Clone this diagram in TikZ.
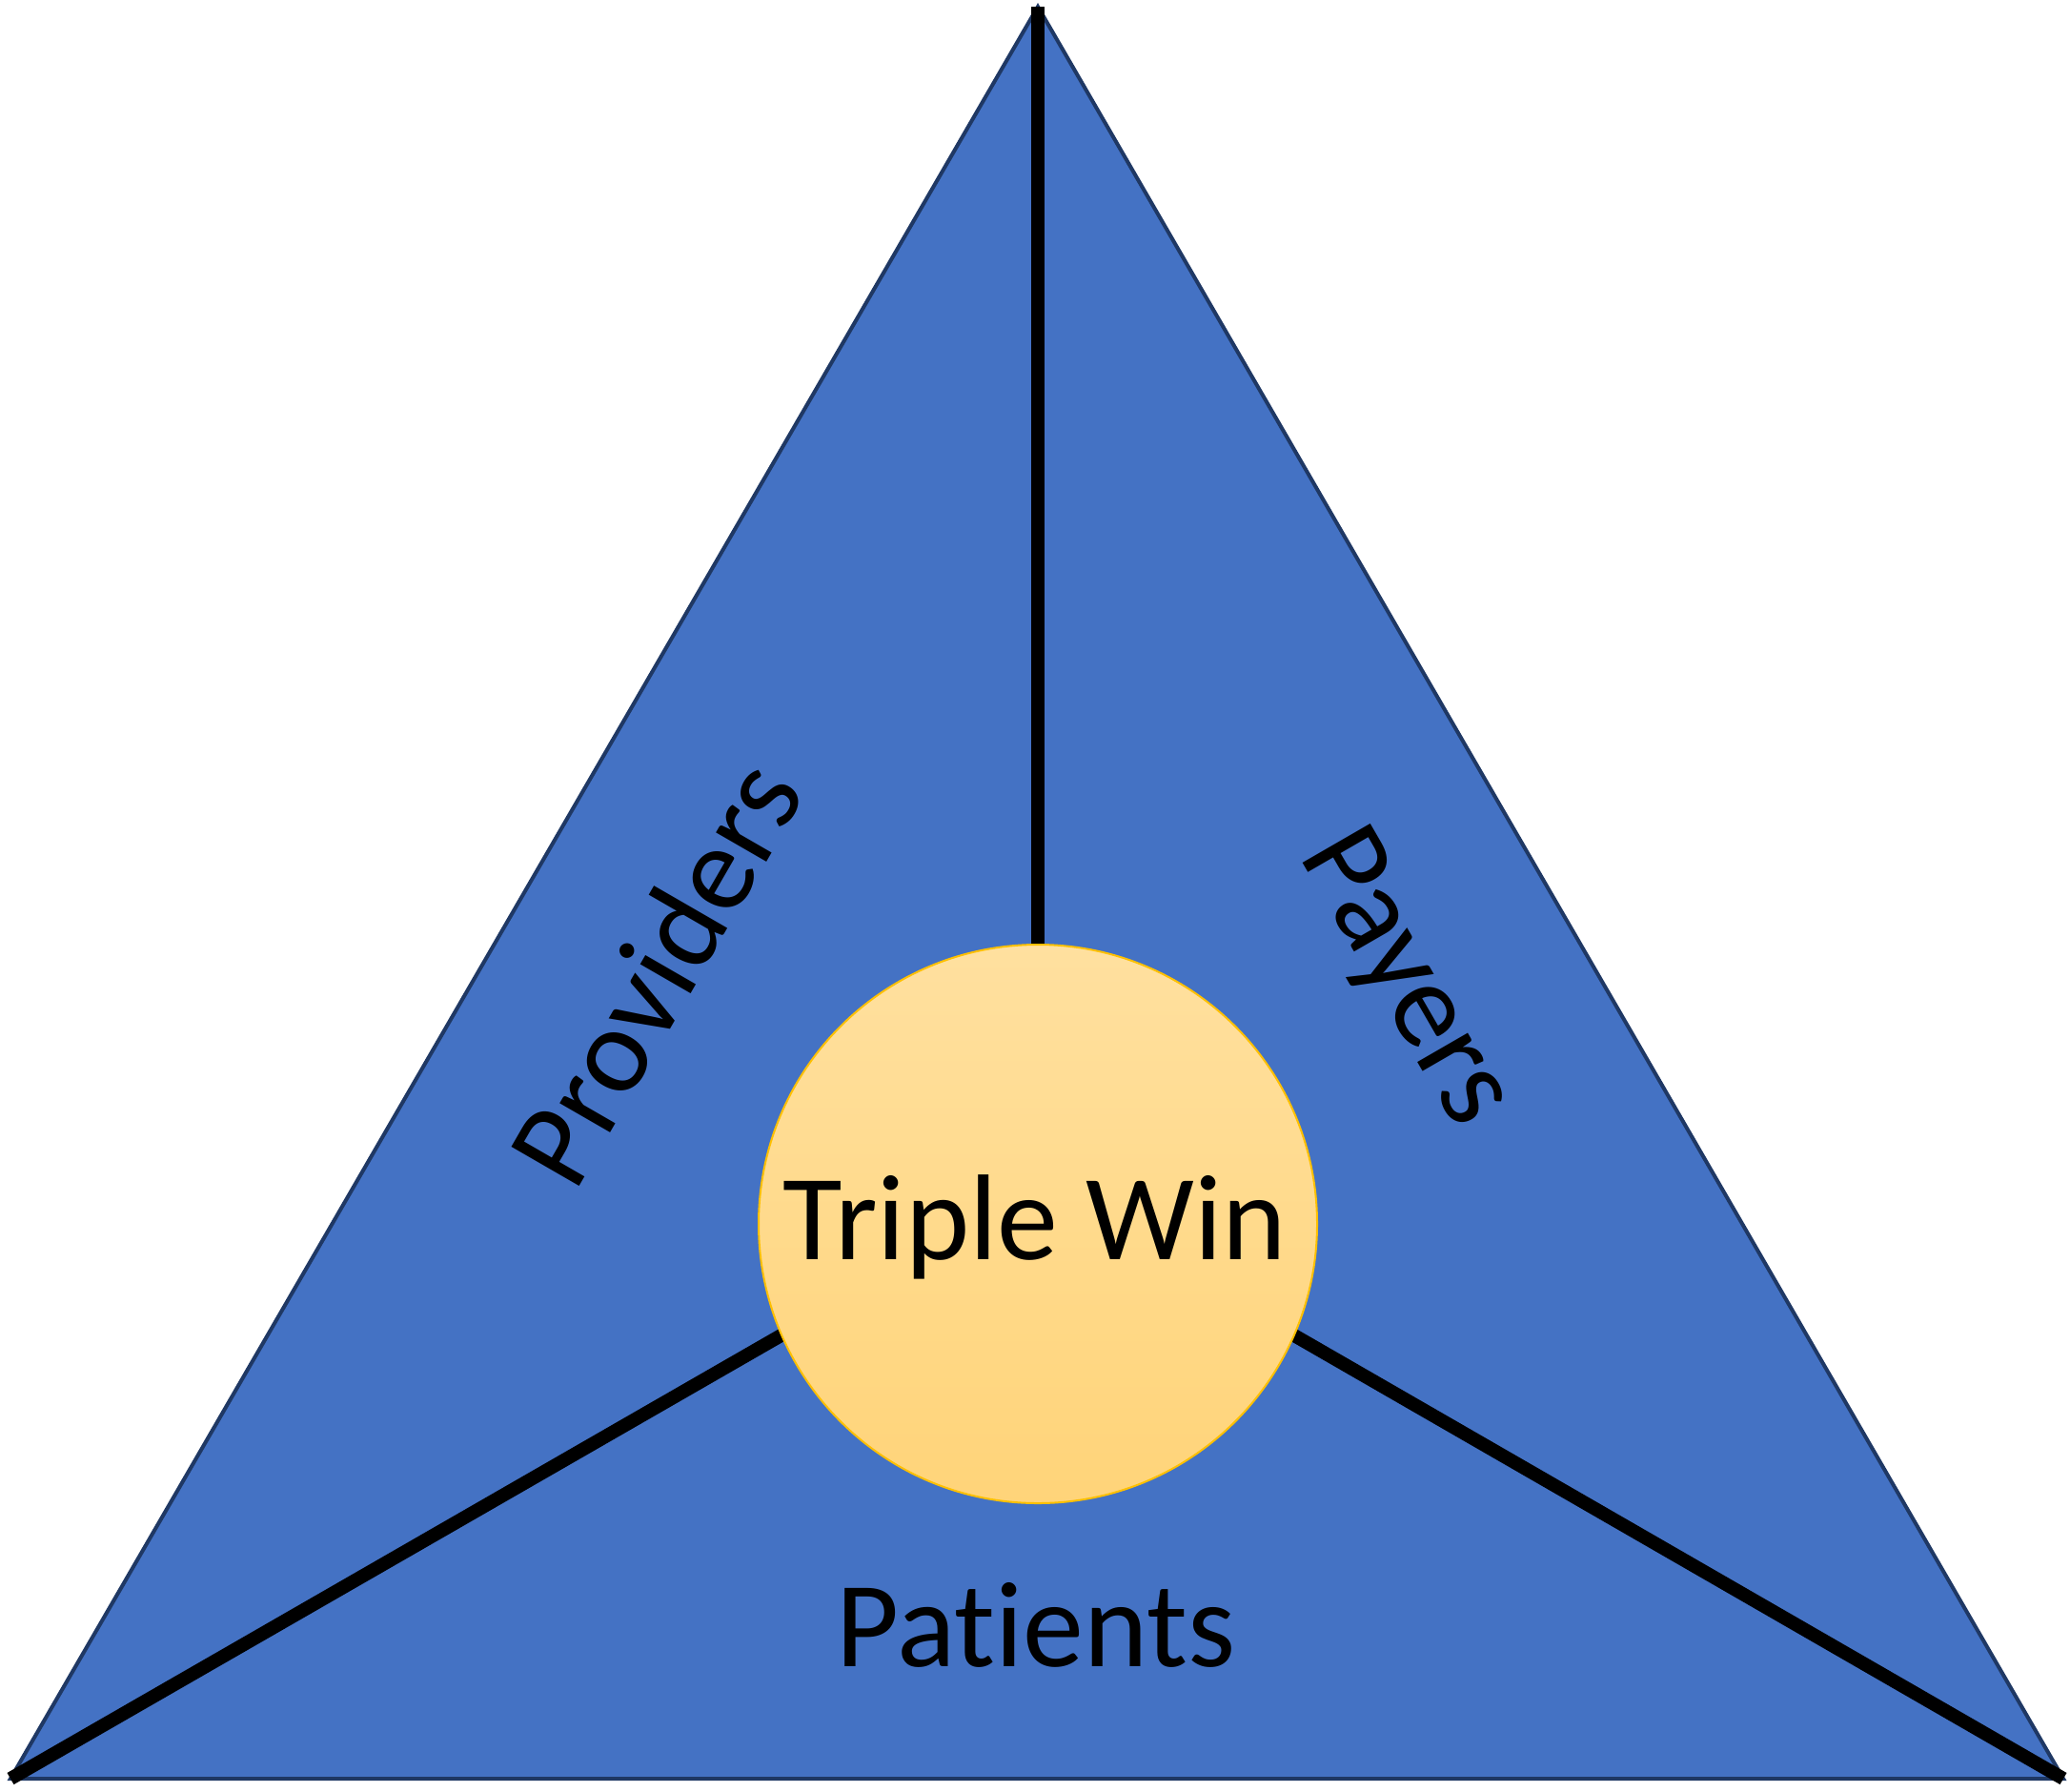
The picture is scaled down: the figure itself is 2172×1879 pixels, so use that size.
\documentclass[tikz,border=0pt]{standalone}
\usepackage{fontspec}
\setmainfont{Carlito}[Ligatures=NoCommon, RawFeature=-liga]
\definecolor{triblue}{HTML}{4472C4}
\definecolor{triedge}{HTML}{1F3864}
\definecolor{goldtop}{HTML}{FFE09F}
\definecolor{goldbot}{HTML}{FFD479}
\definecolor{goldedge}{HTML}{FFC000}
\tikzset{
  tri/.style={fill=triblue, draw=triedge, line width=2pt, line join=miter},
  spoke/.style={draw=black, line width=7pt},
  hub/.style={circle, minimum size=293pt, inner sep=0pt, draw=goldedge, line width=1pt,
    top color=goldtop, bottom color=goldbot},
  lbl/.style={font=\fontsize{64}{64}\selectfont, text=black, inner sep=0pt}
}
\begin{document}
\begin{tikzpicture}[x=0.5pt, y=-0.5pt]
\useasboundingbox (0,0) rectangle (2172,1879);
\coordinate (A) at (1089,7);
\coordinate (B) at (11,1866);
\coordinate (C) at (2165,1866);
\coordinate (G) at (1089,1246);
\draw[tri] (A) -- (B) -- (C) -- cycle;
\draw[spoke] (A) -- (G);
\draw[spoke] (B) -- (G);
\draw[spoke] (C) -- (G);
\node[hub] (tw) at (1089,1284) {};
\node[lbl, anchor=base] (twt) at (1086,1321) {Triple Win};
\node[lbl, anchor=base] (pat) at (1087,1748) {Patients};
\node[lbl, rotate=60] (prov) at (687,1020) {Providers};
\node[lbl, rotate=-60] (pay) at (1473,1027) {Payers};
\end{tikzpicture}
\end{document}
